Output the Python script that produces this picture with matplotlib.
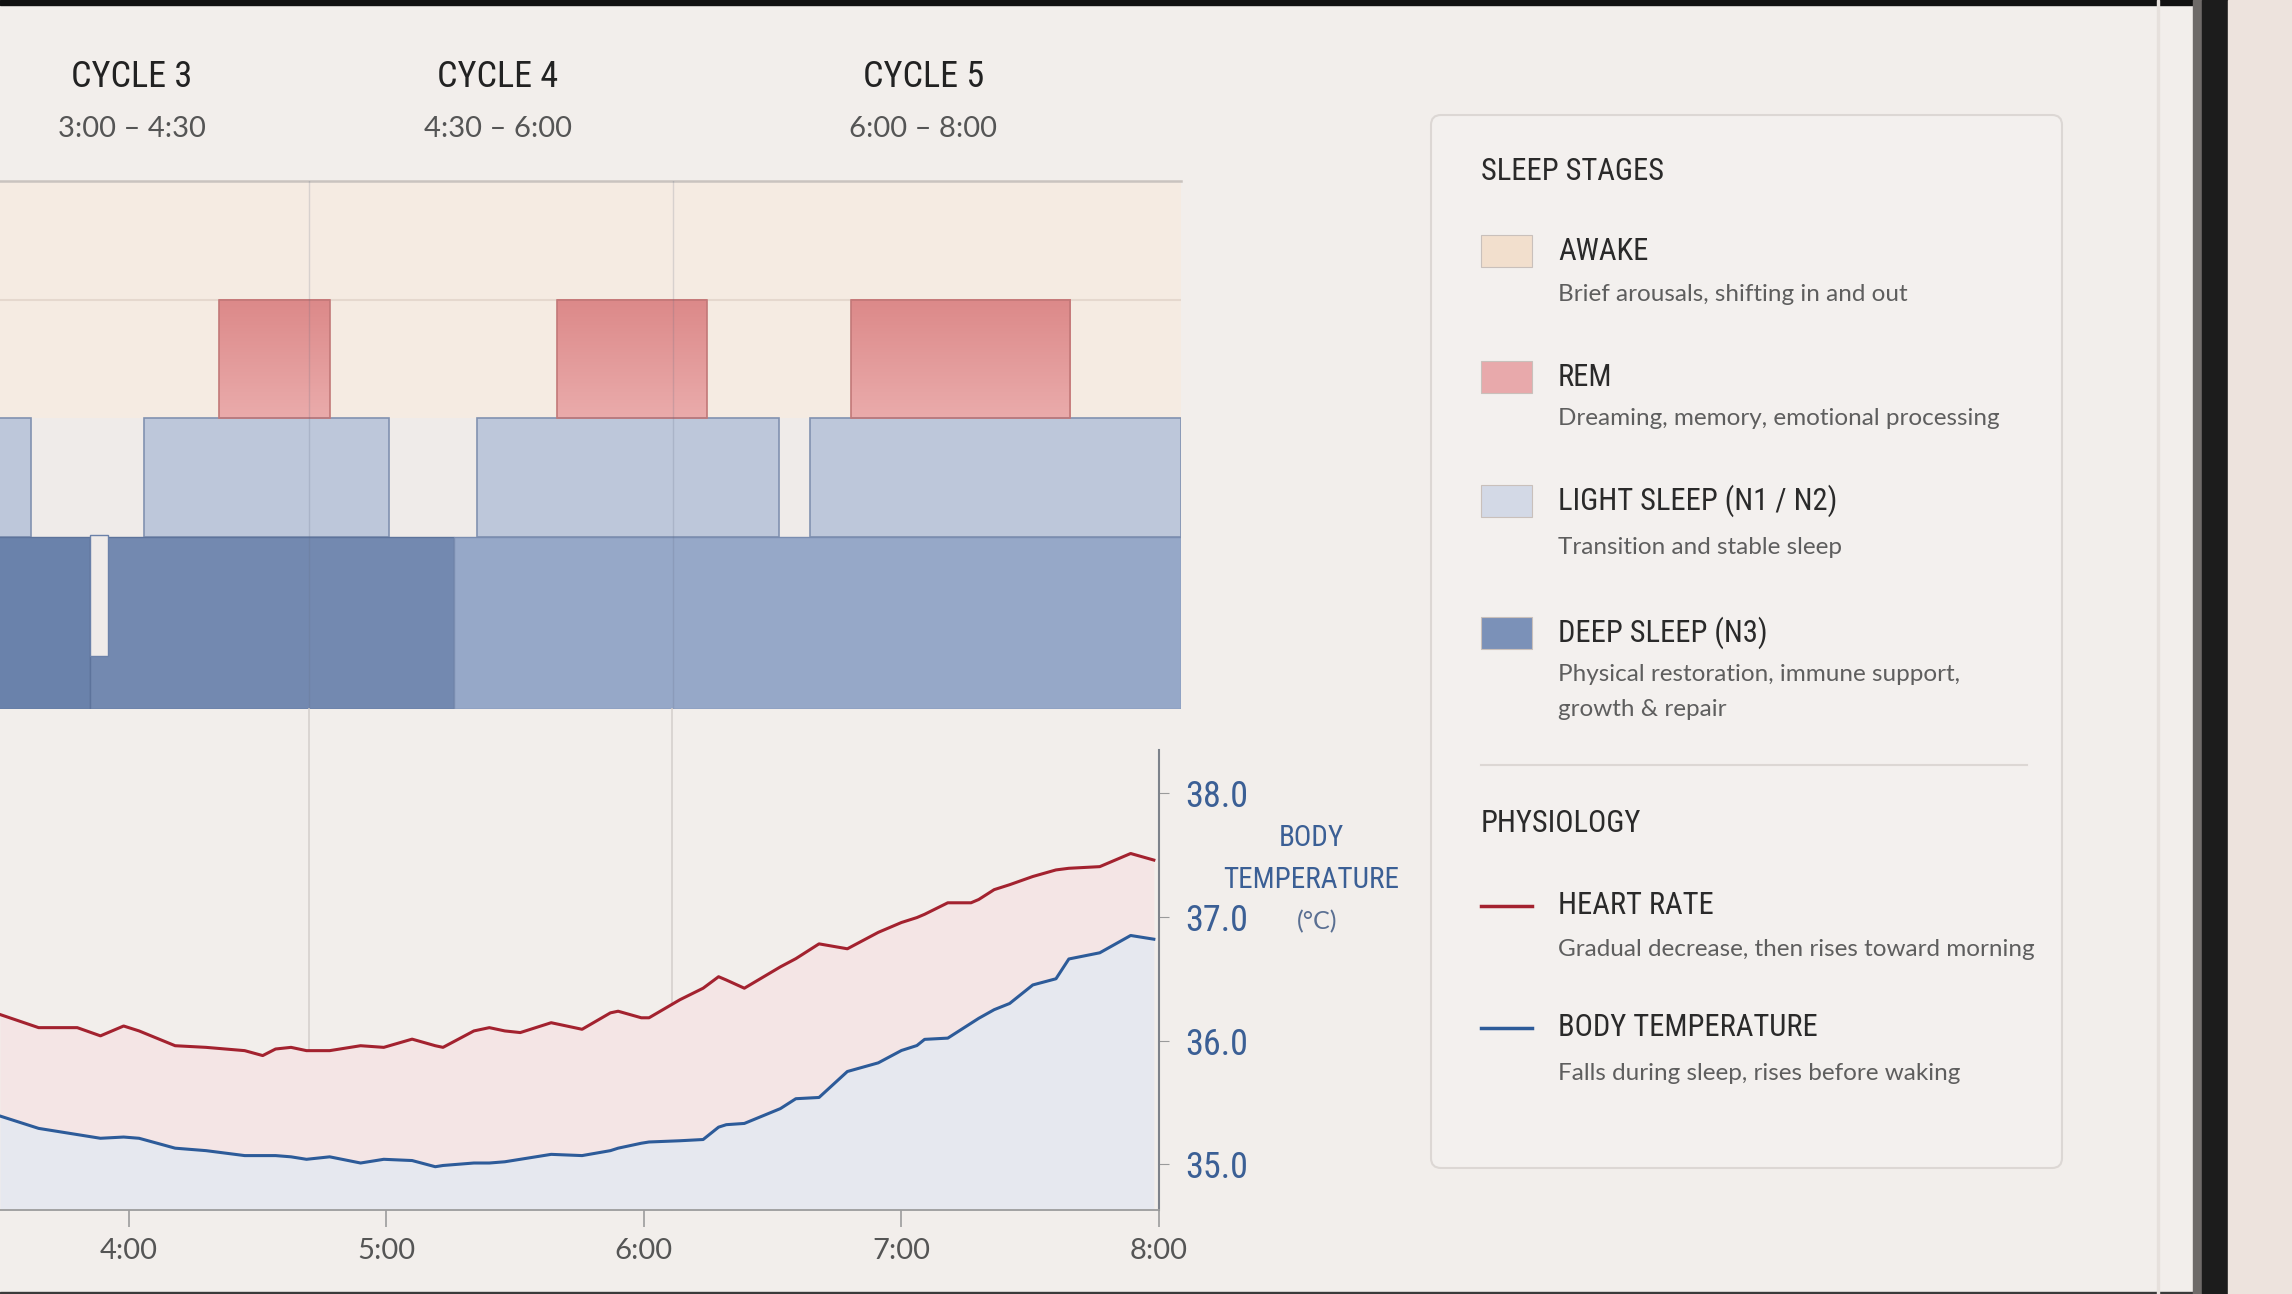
import numpy as np
import matplotlib
matplotlib.use('Agg')
import matplotlib.pyplot as plt
from matplotlib import font_manager
from matplotlib.patches import Rectangle, FancyBboxPatch
from matplotlib.colors import LinearSegmentedColormap
from matplotlib.transforms import blended_transform_factory

# ---------------- data ----------------
CYCLE_NAMES = ['CYCLE 3', 'CYCLE 4', 'CYCLE 5']
CYCLE_SPANS = ['3:00 – 4:30', '4:30 – 6:00', '6:00 – 8:00']
CYCLE_LABEL_HOUR = [4.01, 5.43, 7.08]
CYCLE_BOUNDS = [4.70, 6.11]

# hypnogram segments (start hour, end hour)
REM = [(4.35, 4.78), (5.66, 6.24), (6.80, 7.65)]
LIGHT = [(3.30, 3.62), (4.06, 5.01), (5.35, 6.52), (6.64, 8.08)]
DEEP_STRONG = [(3.30, 3.85), (3.85, 5.26)]
DEEP_WEAK = [(5.26, 8.08)]
AROUSAL = [(3.85, 3.92)]

TIME_HOURS = [3.50, 3.65, 3.80, 3.89, 3.98, 4.04, 4.18, 4.30, 4.45, 4.52,
              4.57, 4.63, 4.69, 4.78, 4.90, 4.99, 5.10, 5.19, 5.22, 5.34,
              5.40, 5.46, 5.52, 5.64, 5.76, 5.87, 5.90, 5.99, 6.02, 6.14,
              6.23, 6.29, 6.32, 6.39, 6.53, 6.59, 6.68, 6.79, 6.91, 7.00,
              7.06, 7.09, 7.18, 7.27, 7.30, 7.36, 7.42, 7.51, 7.60, 7.65,
              7.77, 7.89, 7.98]
HEART_RATE = [55.9, 55.1, 55.1, 54.6, 55.2, 54.9, 54.0, 53.9, 53.7, 53.4,
              53.8, 53.9, 53.7, 53.7, 54.0, 53.9, 54.4, 54.0, 53.9, 54.9,
              55.1, 54.9, 54.8, 55.4, 55.0, 56.0, 56.1, 55.7, 55.7, 56.8,
              57.5, 58.2, 58.0, 57.5, 58.8, 59.3, 60.2, 59.9, 60.9, 61.5,
              61.8, 62.0, 62.7, 62.7, 62.9, 63.5, 63.8, 64.3, 64.7, 64.8,
              64.9, 65.7, 65.3]
BODY_TEMP = [35.39, 35.29, 35.24, 35.21, 35.22, 35.21, 35.13, 35.11, 35.07, 35.07,
             35.07, 35.06, 35.04, 35.06, 35.01, 35.04, 35.03, 34.98, 34.99, 35.01,
             35.01, 35.02, 35.04, 35.08, 35.07, 35.11, 35.13, 35.17, 35.18, 35.19,
             35.20, 35.30, 35.32, 35.33, 35.45, 35.53, 35.54, 35.75, 35.82, 35.92,
             35.96, 36.01, 36.02, 36.14, 36.18, 36.25, 36.30, 36.45, 36.50, 36.66,
             36.71, 36.85, 36.82]

HOUR_TICKS = [4, 5, 6, 7, 8]
HOUR_LABELS = ['4:00', '5:00', '6:00', '7:00', '8:00']
TEMP_TICKS = [35.0, 36.0, 37.0, 38.0]

STAGES = ['AWAKE', 'REM', 'LIGHT SLEEP (N1 / N2)', 'DEEP SLEEP (N3)']
STAGE_NOTES = ['Brief arousals, shifting in and out',
               'Dreaming, memory, emotional processing',
               'Transition and stable sleep',
               'Physical restoration, immune support,\ngrowth & repair']
SIGNALS = ['HEART RATE', 'BODY TEMPERATURE']
SIGNAL_NOTES = ['Gradual decrease, then rises toward morning',
                'Falls during sleep, rises before waking']

# ---------------- style ----------------
W, H = 2292, 1294
PAPER = '#f2eeeb'
C_AWAKE = '#f5ebe2'
C_REM_TOP, C_REM_BOT = '#dc8989', '#eaabab'
C_LIGHT = '#bdc7da'
C_DEEP = ['#6a82ab', '#7389b0']
C_DEEP_WEAK = '#96a8c8'
C_HR = '#a3222f'
C_TEMP = '#2d5b99'
SWATCHES = ['#f2dfcd', '#e8a9ab', '#d3d9e6', '#7b91b8']

names = {f.name for f in font_manager.fontManager.ttflist}


def pick(cands):
    for c in cands:
        if c in names:
            return c
    return 'DejaVu Sans'


NARROW = pick(['Liberation Sans Narrow', 'Roboto Condensed', 'Open Sans Condensed', 'Roboto'])
BODY = pick(['Lato', 'Open Sans', 'Noto Sans'])

T_LIM = (34.63, 38.35)
HR_LIM = (44, 72)

fig = plt.figure(figsize=(W / 100, H / 100), dpi=100, facecolor=PAPER)

# pixel canvas for frame, headers and legend
cv = fig.add_axes([0, 0, 1, 1], zorder=-1)
cv.set_xlim(0, W)
cv.set_ylim(H, 0)
cv.axis('off')
cv.patch.set_alpha(0)

# frame edges
cv.add_patch(Rectangle((0, 0), W, 5, color='#111111'))
cv.add_patch(Rectangle((0, H - 2), 2202, 2, color='#3a3a3a'))
cv.add_patch(Rectangle((2157, 0), 2, H, color='#e6e0dc'))
cv.add_patch(Rectangle((2193, 0), 9, H, color='#6e6a68'))
cv.add_patch(Rectangle((2202, 0), 26, H, color='#1c1c1c'))
cv.add_patch(Rectangle((2228, 0), 64, H, color='#ede3dd'))

# legend box
cv.add_patch(FancyBboxPatch((1431, 115), 631, 1053, boxstyle='round,pad=0,rounding_size=10',
                            facecolor='#f3f0ee', edgecolor='#dcd7d4', lw=1.5))
cv.text(1481, 171, 'SLEEP STAGES', fontsize=22, family=NARROW, color='#2a2a2a', va='center')
title_y = [251, 377, 501, 633]
note_y = [297, 421, 550, 677]
for i in range(4):
    cv.add_patch(Rectangle((1481, title_y[i] - 16), 51, 32, facecolor=SWATCHES[i],
                           edgecolor='#c9c0bb', lw=0.8))
    cv.text(1558, title_y[i], STAGES[i], fontsize=22, family=NARROW, color='#2a2a2a', va='center')
    cv.text(1558, note_y[i] - 13, STAGE_NOTES[i], fontsize=17.5, family=BODY, color='#5e5e5e',
            va='top', linespacing=1.8)
cv.plot([1481, 2027], [765, 765], color='#dcd7d4', lw=1.5)
cv.text(1481, 823, 'PHYSIOLOGY', fontsize=22, family=NARROW, color='#2a2a2a', va='center')
sig_y = [906, 1028]
sig_note_y = [949, 1074]
for i, col in enumerate([C_HR, C_TEMP]):
    cv.plot([1481, 1532], [sig_y[i], sig_y[i]], color=col, lw=2.5)
    cv.text(1558, sig_y[i], SIGNALS[i], fontsize=22, family=NARROW, color='#2a2a2a', va='center')
    cv.text(1558, sig_note_y[i], SIGNAL_NOTES[i], fontsize=17.5, family=BODY, color='#5e5e5e',
            va='center')

# body temperature axis title
cv.text(1311, 838, 'BODY', fontsize=21, family=NARROW, color='#3b5f95', ha='center', va='center')
cv.text(1311, 880, 'TEMPERATURE', fontsize=21, family=NARROW, color='#3b5f95', ha='center', va='center')
cv.text(1317, 922, '(°C)', fontsize=18, family=BODY, color='#5a6f92', ha='center', va='center')

# ---------------- hypnogram ----------------
ax1 = fig.add_axes([0, 1 - 709 / H, 1181 / W, (709 - 181) / H])
ax1.set_facecolor('#efebe9')
ax1.add_patch(Rectangle((3.3, 2), 4.78, 2, color=C_AWAKE, zorder=1, lw=0))
ax1.axhline(3, color='#e5d8ce', lw=1.5, zorder=1.5)

cmap_rem = LinearSegmentedColormap.from_list('rem', [C_REM_BOT, C_REM_TOP])
for a, b in REM:
    ax1.imshow(np.linspace(0, 1, 64).reshape(-1, 1), extent=(a, b, 2, 3), origin='lower',
               cmap=cmap_rem, aspect='auto', zorder=2)
    ax1.add_patch(Rectangle((a, 2), b - a, 1, fill=False, edgecolor='#c27878', lw=1.2, zorder=3))

for a, b in LIGHT:
    ax1.add_patch(Rectangle((a, 1), b - a, 1, facecolor=C_LIGHT, edgecolor='#8191b0', lw=1.2, zorder=2))

for (a, b), c in zip(DEEP_STRONG, C_DEEP):
    ax1.add_patch(Rectangle((a, -0.45), b - a, 1.45, facecolor=c, edgecolor='#5d739b', lw=1.0, zorder=2))
for a, b in DEEP_WEAK:
    ax1.add_patch(Rectangle((a, -0.45), b - a, 1.45, facecolor=C_DEEP_WEAK, edgecolor='#7a8db0', lw=1.0, zorder=2))
for a, b in AROUSAL:
    ax1.add_patch(Rectangle((a, 0), b - a, 1.02, facecolor='#efebe9', edgecolor='#6b81a9', lw=1.0, zorder=2.5))

for x in CYCLE_BOUNDS:
    ax1.axvline(x, color='#5f6b82', lw=1.0, alpha=0.2, zorder=4)

ax1.set_xlim(3.5, 8.08)
ax1.set_ylim(-0.45, 4.0)
ax1.set_xticks([])
ax1.set_yticks([])
for s in ['left', 'right', 'bottom']:
    ax1.spines[s].set_visible(False)
ax1.spines['top'].set_color('#c9c3bf')
ax1.spines['top'].set_linewidth(1.8)

# cycle headers above the hypnogram
tr = blended_transform_factory(ax1.transData, cv.transData)
for name, span, hx in zip(CYCLE_NAMES, CYCLE_SPANS, CYCLE_LABEL_HOUR):
    cv.text(hx, 77, name, transform=tr, fontsize=26, family=NARROW, color='#222222',
            ha='center', va='center')
    cv.text(hx, 129, span, transform=tr, fontsize=21, family=BODY, color='#555555',
            ha='center', va='center')

# ---------------- physiology ----------------
t = np.array(TIME_HOURS)
temp = np.array(BODY_TEMP)
hr = np.array(HEART_RATE)
hr_on_t = T_LIM[0] + (hr - HR_LIM[0]) * (T_LIM[1] - T_LIM[0]) / (HR_LIM[1] - HR_LIM[0])

ax2 = fig.add_axes([0, 1 - 1210 / H, 1159 / W, (1210 - 750) / H])
ax2.patch.set_alpha(0)
ax2.fill_between(t, T_LIM[0], temp, color='#e6e8ef', lw=0, zorder=1)
ax2.fill_between(t, temp, hr_on_t, color='#f4e5e5', lw=0, zorder=1)
ax2.plot(t, temp, color=C_TEMP, lw=2.2, zorder=3)
for x in CYCLE_BOUNDS:
    ax2.axvline(x, ymin=0, ymax=1.09, color='#d6d0cd', lw=1.2, zorder=0.5, clip_on=False)

ax_hr = ax2.twinx()
ax_hr.set_ylim(HR_LIM)
ax_hr.plot(t, hr, color=C_HR, lw=2.2)
ax_hr.set_axis_off()

ax2.set_xlim(3.5, 8.0)
ax2.set_ylim(T_LIM)
ax2.spines['left'].set_visible(False)
ax2.spines['top'].set_visible(False)
ax2.spines['bottom'].set_color('#9c9c9c')
ax2.spines['bottom'].set_linewidth(1.3)
ax2.spines['right'].set_color('#7d828b')
ax2.spines['right'].set_linewidth(1.5)
ax2.yaxis.tick_right()
ax2.set_yticks(TEMP_TICKS, [f'{v:.1f}' for v in TEMP_TICKS])
ax2.tick_params(axis='y', colors='#9a9a9a', labelcolor='#3b5f95', length=7, pad=12, labelsize=26)
ax2.set_xticks(HOUR_TICKS, HOUR_LABELS)
ax2.tick_params(axis='x', colors='#9c9c9c', labelcolor='#555555', length=12, width=1.2,
                pad=8, labelsize=21)
for lbl in ax2.get_yticklabels():
    lbl.set_family(NARROW)
for lbl in ax2.get_xticklabels():
    lbl.set_family(BODY)

fig.savefig('out.png', dpi=100, facecolor=PAPER)
